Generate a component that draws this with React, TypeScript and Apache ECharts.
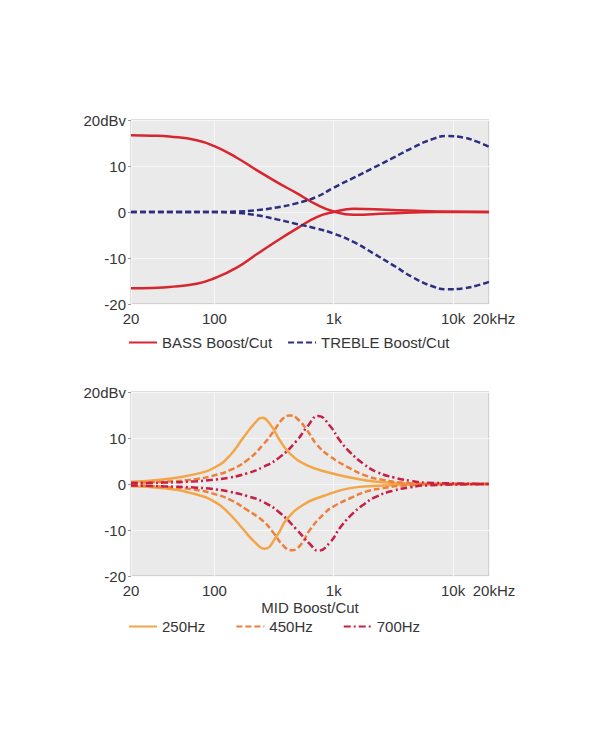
import React, { useEffect, useRef } from "react";
import * as echarts from "echarts";

// ---- Data ----
const xTickValues = [20, 100, 1000, 10000, 20000];
const xTickLabels = ["20", "100", "1k", "10k", "20kHz"];
const yTickTop = "20dBv";

const bassBoostF = [20, 30, 42, 71, 100, 154, 226, 333, 489, 720, 1000, 1460, 2800, 7300, 20000];
const bassBoostV = [16.7, 16.6, 16.4, 15.6, 14.3, 11.8, 9.1, 6.5, 4.1, 1.6, 0.1, -0.6, -0.3, 0, 0];
const bassCutF = [20, 30, 42, 71, 100, 154, 226, 333, 489, 720, 1000, 1460, 2800, 7300, 20000];
const bassCutV = [-16.6, -16.5, -16.3, -15.6, -14.4, -12.1, -9.2, -6.3, -3.6, -1.1, 0, 0.7, 0.5, 0.1, 0];

const trebleF = [20, 50, 100, 154, 226, 333, 489, 720, 1000, 1460, 2150, 3160, 4600, 6800, 8900, 12200, 15800, 20000];
const trebleBoostV = [0, 0, 0, 0.1, 0.4, 1.0, 1.9, 3.3, 5.3, 7.4, 9.6, 11.8, 14.0, 15.9, 16.5, 16.2, 15.3, 14.2];
const trebleCutV = [0, 0, 0, -0.2, -0.7, -1.6, -2.6, -3.6, -4.7, -6.5, -9.0, -11.6, -14.2, -16.2, -16.8, -16.6, -16.0, -15.2];

const mid250BoostF = [20, 37, 71, 104, 135, 175, 219, 249, 293, 355, 430, 594, 875, 1370, 2300, 5000, 20000];
const mid250BoostV = [0.5, 1.0, 2.2, 3.8, 6.2, 10.1, 13.3, 14.4, 13.0, 9.4, 6.6, 4.1, 2.6, 1.4, 0.5, 0.1, 0];
const mid250CutF = [20, 37, 71, 104, 135, 175, 219, 262, 333, 403, 556, 818, 1370, 2300, 5000, 20000];
const mid250CutV = [-0.5, -0.9, -2.3, -4.1, -6.6, -9.9, -12.7, -14.1, -11.3, -7.7, -4.5, -2.6, -0.9, -0.4, -0.1, 0];

const mid450BoostF = [20, 37, 71, 104, 135, 187, 257, 312, 378, 430, 489, 594, 720, 931, 1370, 1900, 2600, 3600, 8000, 20000];
const mid450BoostV = [0.3, 0.5, 1.1, 2.0, 3.0, 5.1, 8.6, 11.4, 14.3, 14.9, 14.3, 11.8, 8.6, 6.0, 3.4, 1.7, 0.9, 0.3, 0, 0];
const mid450CutF = [20, 37, 71, 104, 135, 187, 257, 312, 378, 444, 522, 634, 818, 993, 1370, 1900, 2600, 3600, 8000, 20000];
const mid450CutV = [-0.3, -0.6, -1.3, -2.3, -3.4, -5.6, -8.1, -10.6, -13.4, -14.4, -13.4, -9.9, -6.6, -4.9, -3.1, -1.6, -0.9, -0.4, 0, 0];

const mid700BoostF = [20, 37, 71, 104, 135, 187, 257, 355, 489, 594, 743, 931, 1130, 1370, 1770, 2300, 3200, 4400, 6000, 20000];
const mid700BoostV = [0.2, 0.3, 0.6, 1.0, 1.4, 2.3, 3.7, 5.9, 9.4, 12.3, 14.8, 12.6, 9.4, 6.9, 4.4, 2.6, 1.4, 0.7, 0.3, 0];
const mid700CutF = [20, 37, 71, 104, 135, 187, 257, 355, 489, 634, 743, 931, 1130, 1370, 1770, 2300, 3200, 4400, 6000, 20000];
const mid700CutV = [-0.3, -0.5, -0.8, -1.2, -1.7, -2.6, -3.9, -6.3, -9.9, -13.1, -14.5, -12.7, -9.5, -7.0, -4.5, -2.7, -1.4, -0.7, -0.3, 0];

const topLegend = ["BASS Boost/Cut", "TREBLE Boost/Cut"];
const bottomLegend = ["250Hz", "450Hz", "700Hz"];
const bottomAxisName = "MID Boost/Cut";

const pairs = (f: number[], v: number[]) => f.map((x, i) => [x, v[i]]);

const FONT = "Liberation Sans, Arial, Helvetica, sans-serif";
const TXT = "#353535";

function xLabel(v: number) {
  let best = 0;
  let bd = Infinity;
  xTickValues.forEach((t, i) => {
    const d = Math.abs(Math.log10(v) - Math.log10(t));
    if (d < bd) {
      bd = d;
      best = i;
    }
  });
  const s = xTickLabels[best];
  return best === xTickValues.length - 1 ? `{s|${s}}` : s;
}

function makeX(gridIndex: number, name?: string) {
  return {
    type: "log",
    logBase: 10,
    gridIndex,
    min: 20,
    max: 20000,
    name: name || "",
    nameLocation: "middle",
    nameGap: 24,
    nameTextStyle: { fontSize: 15, color: TXT, fontFamily: FONT },
    axisLine: { show: false },
    axisTick: { show: false, customValues: xTickValues },
    axisLabel: {
      customValues: xTickValues,
      formatter: xLabel,
      fontSize: 15,
      color: TXT,
      fontFamily: FONT,
      margin: 7,
      rich: { s: { padding: [0, 0, 0, 10], fontSize: 15, color: TXT, fontFamily: FONT } },
    },
    splitLine: { show: true, lineStyle: { color: "#f7f7f7", width: 1 } },
    minorSplitLine: { show: false },
  };
}

function makeY(gridIndex: number) {
  return {
    type: "value",
    gridIndex,
    min: -20,
    max: 20,
    interval: 10,
    axisLine: { show: false },
    axisTick: { show: true, length: 3, lineStyle: { color: "#9a9a9a" } },
    axisLabel: {
      formatter: (v: number) => (v === 20 ? yTickTop : String(v)),
      fontSize: 15,
      color: TXT,
      fontFamily: FONT,
      margin: 5,
    },
    splitLine: { show: true, lineStyle: { color: "#f7f7f7", width: 1 } },
  };
}

function line(name: string, data: number[][], idx: number, color: string, type: any) {
  return {
    type: "line",
    name,
    xAxisIndex: idx,
    yAxisIndex: idx,
    data,
    smooth: true,
    showSymbol: false,
    symbol: "none",
    lineStyle: { color, width: 2.5, type },
    itemStyle: { color },
  };
}

const RED = "#d7262f";
const NAVY = "#2c2f80";
const OR1 = "#f3a548";
const OR2 = "#ee7f3b";
const CRIM = "#c71f45";

export default function App() {
  const ref = useRef<HTMLDivElement>(null);
  useEffect(() => {
    if (!ref.current) return;
    const chart = echarts.init(ref.current, undefined, { renderer: "svg" });
    const gridBase = {
      left: 131,
      width: 358,
      height: 184,
      show: true,
      backgroundColor: "#eaeaea",
      borderColor: "#b8b8b8",
      borderWidth: 1,
    };
    const legendBase = {
      left: 128,
      padding: 0,
      itemWidth: 28,
      itemHeight: 14,
      selectedMode: false,
      itemStyle: { opacity: 0, borderWidth: 0 },
      textStyle: { fontSize: 15, color: TXT, fontFamily: FONT },
    };
    chart.setOption({
      animation: false,
      backgroundColor: "#ffffff",
      grid: [
        { ...gridBase, top: 120 },
        { ...gridBase, top: 392 },
      ],
      xAxis: [makeX(0), makeX(1, bottomAxisName)],
      yAxis: [makeY(0), makeY(1)],
      legend: [
        { ...legendBase, data: topLegend, top: 335, itemGap: 15 },
        { ...legendBase, data: bottomLegend, top: 619, itemGap: 30 },
      ],
      series: [
        line(topLegend[0], pairs(bassBoostF, bassBoostV), 0, RED, "solid"),
        line(topLegend[0], pairs(bassCutF, bassCutV), 0, RED, "solid"),
        line(topLegend[1], pairs(trebleF, trebleBoostV), 0, NAVY, [6, 3]),
        line(topLegend[1], pairs(trebleF, trebleCutV), 0, NAVY, [6, 3]),
        line(bottomLegend[0], pairs(mid250BoostF, mid250BoostV), 1, OR1, "solid"),
        line(bottomLegend[0], pairs(mid250CutF, mid250CutV), 1, OR1, "solid"),
        line(bottomLegend[1], pairs(mid450BoostF, mid450BoostV), 1, OR2, [6, 3]),
        line(bottomLegend[1], pairs(mid450CutF, mid450CutV), 1, OR2, [6, 3]),
        line(bottomLegend[2], pairs(mid700BoostF, mid700BoostV), 1, CRIM, [7, 3, 2, 3]),
        line(bottomLegend[2], pairs(mid700CutF, mid700CutV), 1, CRIM, [7, 3, 2, 3]),
      ],
    });
    return () => chart.dispose();
  }, []);
  return (
    <div
      ref={ref}
      style={{ position: "fixed", left: 0, top: 0, width: 600, height: 750, background: "#fff" }}
    />
  );
}
